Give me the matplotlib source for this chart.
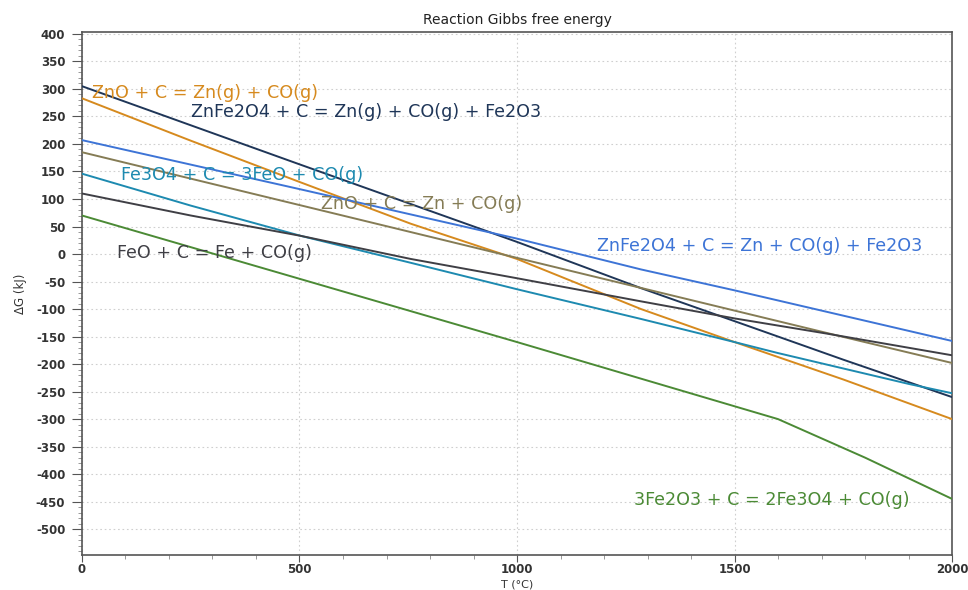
import matplotlib
matplotlib.use("Agg")
from matplotlib import pyplot as plt
from matplotlib.ticker import MultipleLocator

plt.rcParams["axes.unicode_minus"] = False

# temperatures (deg C) and Gibbs energies (kJ)
t_znfe2o4_zng = [0, 500, 1000, 1285, 1500, 1750, 2000]
g_znfe2o4_zng = [305, 163, 22, -62, -122, -192, -260]

t_zno_zng = [0, 250, 500, 756, 1000, 1285, 1500, 1750, 2000]
g_zno_zng = [283, 206, 131, 55, -9, -100, -160, -228, -300]

t_znfe2o4_zn = [0, 500, 1000, 1285, 1500, 2000]
g_znfe2o4_zn = [207, 118, 28, -28, -66, -158]

t_zno_zn = [0, 1000, 1715, 2000]
g_zno_zn = [185, -7, -144, -198]

t_fe3o4 = [0, 250, 503, 756, 1000, 1285, 1500, 1600, 1750, 1900, 2000]
g_fe3o4 = [146, 88, 33, -16, -64, -118, -160, -180, -208, -236, -253]

t_feo = [0, 250, 503, 756, 1000, 1285, 1500, 1715, 2000]
g_feo = [110, 70, 33, -9, -44, -86, -117, -145, -184]

t_fe2o3 = [0, 500, 1000, 1300, 1600, 1800, 2000]
g_fe2o3 = [70, -45, -160, -230, -300, -370, -445]

series = [
    (t_znfe2o4_zng, g_znfe2o4_zng, "#1f3658", "ZnFe2O4 + C = Zn(g) + CO(g) + Fe2O3", 250, 258),
    (t_zno_zng, g_zno_zng, "#d68a1e", "ZnO + C = Zn(g) + CO(g)", 23, 292),
    (t_znfe2o4_zn, g_znfe2o4_zn, "#3d74d6", "ZnFe2O4 + C = Zn + CO(g) + Fe2O3", 1184, 15),
    (t_zno_zn, g_zno_zn, "#857c55", "ZnO + C = Zn + CO(g)", 549, 91),
    (t_fe3o4, g_fe3o4, "#1d8ab0", "Fe3O4 + C = 3FeO + CO(g)", 90, 144),
    (t_feo, g_feo, "#3f3f45", "FeO + C = Fe + CO(g)", 80, 2),
    (t_fe2o3, g_fe2o3, "#4b8a35", "3Fe2O3 + C = 2Fe3O4 + CO(g)", 1269, -447),
]

fig = plt.figure(figsize=(9.68, 5.90), dpi=100)
ax = fig.add_axes([0.0847, 0.0593, 0.8988, 0.886])

for t, g, color, label, lx, ly in series:
    ax.plot(t, g, color=color, lw=1.4, zorder=3)
    ax.text(lx, ly, label, color=color, fontsize=12.6, va="center", ha="left", zorder=4)

ax.set_xlim(0, 2000)
ax.set_ylim(-547, 403)
ax.xaxis.set_major_locator(MultipleLocator(500))
ax.xaxis.set_minor_locator(MultipleLocator(100))
ax.yaxis.set_major_locator(MultipleLocator(50))
ax.yaxis.set_minor_locator(MultipleLocator(10))
ax.set_yticks(range(-500, 401, 50))

ax.grid(True, which="major", color="#cfcfcf", linestyle=(0, (1.5, 2.5)), lw=0.8)
ax.tick_params(which="major", direction="out", length=7, color="#555555",
               labelsize=8.5, labelcolor="#333333", pad=5)
ax.tick_params(axis="x", which="major", length=5, pad=1)
ax.tick_params(which="minor", direction="out", length=3, color="#888888")
for lab in ax.get_xticklabels() + ax.get_yticklabels():
    lab.set_fontweight("bold")
for spine in ax.spines.values():
    spine.set_color("#555555")
    spine.set_linewidth(1.2)

ax.set_title("Reaction Gibbs free energy", fontsize=10, color="#222222", pad=6)
ax.set_ylabel("ΔG (kJ)", fontsize=8.5, color="#333333", labelpad=6)
fig.text(0.534, 0.001, "T (°C)", fontsize=8, color="#333333", ha="center", va="bottom")

fig.savefig("out.png", dpi=100)
